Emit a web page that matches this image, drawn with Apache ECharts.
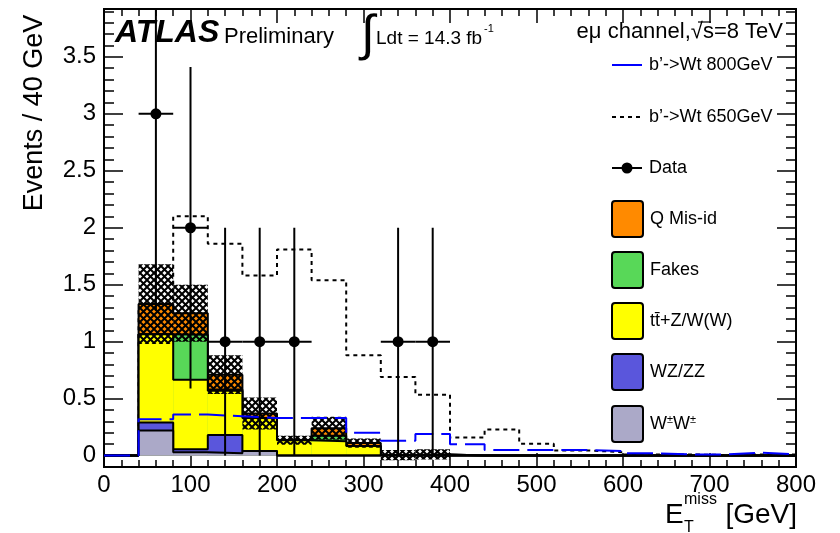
<!DOCTYPE html>
<html>
<head>
<meta charset="utf-8">
<script src="https://cdn.jsdelivr.net/npm/echarts@6.0.0/dist/echarts.min.js"></script>
<style>
  html, body { margin: 0; padding: 0; background: #fff; }
  #chart { width: 840px; height: 533px; }
</style>
</head>
<body>
<div id="chart"></div>
<script>
// Missing transverse energy, e-mu same-sign channel, 40 GeV bins
const binEdges = [0, 40, 80, 120, 160, 200, 240, 280, 320, 360, 400, 440, 480, 520, 560, 600, 640, 680, 720, 760, 800];

// Background contributions per bin (stacked bottom to top)
const wpmwpm   = [0, 0.22, 0.03, 0.02, 0.04, 0, 0, 0, 0, 0, 0, 0, 0, 0, 0, 0, 0, 0, 0, 0];
const wzzz     = [0, 0.07, 0.025, 0.16, 0, 0, 0, 0, 0, 0, 0, 0, 0, 0, 0, 0, 0, 0, 0, 0];
const ttbarV   = [0, 0.775, 0.61, 0.39, 0.29, 0.135, 0.125, 0.085, 0.005, 0, 0, 0, 0, 0, 0, 0, 0, 0, 0, 0];
const fakes    = [0, 0, 0.395, 0.01, 0, 0, 0.05, 0, 0, 0.01, 0, 0, 0, 0, 0, 0, 0, 0, 0, 0];
const qMisId   = [0, 0.265, 0.19, 0.13, 0.04, 0, 0.065, 0.025, 0, 0, 0, 0, 0, 0, 0, 0, 0, 0, 0, 0];
// Total background uncertainty per bin
const bkgUncertainty = [0, 0.35, 0.25, 0.17, 0.14, 0.04, 0.10, 0.04, 0.045, 0.045, 0, 0, 0, 0, 0, 0, 0, 0, 0, 0];

// Signal hypotheses
const signal800 = [0, 0.32, 0.36, 0.345, 0.33, 0.33, 0.33, 0.2, 0.13, 0.19, 0.1, 0.05, 0.05, 0.05, 0.04, 0.02, 0.01, 0.01, 0.025, 0.01];
const signal650 = [0, 1.3, 2.1, 1.86, 1.58, 1.81, 1.54, 0.88, 0.69, 0.535, 0.16, 0.23, 0.105, 0.045, 0.03, 0.01, 0.01, 0.005, 0.01, 0.01];

// Observed events
const dataX       = [60, 100, 140, 180, 220, 340, 380];
const dataY       = [3, 2, 1, 1, 1, 1, 1];
const dataErrLow  = [1.73, 1.41, 1, 1, 1, 1, 1];
const dataErrHigh = [1.73, 1.41, 1, 1, 1, 1, 1];
const dataXErr    = [20, 20, 20, 20, 20, 20, 20];

// Axis ticks
const xTickValues = [0, 100, 200, 300, 400, 500, 600, 700, 800];
const yTickValues = [0, 0.5, 1, 1.5, 2, 2.5, 3, 3.5];
const yMinorTickValues = [-0.1, 0.1, 0.2, 0.3, 0.4, 0.6, 0.7, 0.8, 0.9, 1.1, 1.2, 1.3, 1.4, 1.6, 1.7, 1.8, 1.9,
  2.1, 2.2, 2.3, 2.4, 2.6, 2.7, 2.8, 2.9, 3.1, 3.2, 3.3, 3.4, 3.6, 3.7, 3.8, 3.9];

const Y_MIN = -0.1, Y_MAX = 3.92;
const FONT = '"Liberation Sans", Arial, Helvetica, sans-serif';

const components = [
  { name: 'W±W±',        values: wpmwpm, color: '#aba9c8' },
  { name: 'WZ/ZZ',       values: wzzz,   color: '#5a56dc' },
  { name: 'tt̄+Z/W(W)',   values: ttbarV, color: '#ffff00' },
  { name: 'Fakes',       values: fakes,  color: '#58d858' },
  { name: 'Q Mis-id',    values: qMisId, color: '#ff8a00' }
];

// cumulative sums for the stack
const cumulative = [];
components.forEach((c, k) => {
  cumulative.push(c.values.map((v, i) => v + (k > 0 ? cumulative[k - 1][i] : 0)));
});
const totalBkg = cumulative[cumulative.length - 1];

// hatch tile for the uncertainty band
function makeHatch() {
  const s = 7;
  const cv = document.createElement('canvas');
  cv.width = s; cv.height = s;
  const g = cv.getContext('2d');
  g.strokeStyle = '#000';
  g.lineWidth = 2;
  g.beginPath();
  g.moveTo(0, 0); g.lineTo(s, s);
  g.moveTo(0, s); g.lineTo(s, 0);
  g.stroke();
  return cv;
}
const hatchPattern = { type: 'pattern', image: makeHatch(), repeat: 'repeat' };

function stepData(values) {
  return binEdges.map((e, i) => [e, values[Math.min(i, values.length - 1)]]);
}

function fillRenderer(color) {
  return function (params, api) {
    const lo = api.value(0), hi = api.value(1), top = api.value(2);
    const p0 = api.coord([lo, 0]);
    const p1 = api.coord([hi, top]);
    return {
      type: 'rect',
      shape: { x: p0[0], y: Math.min(p0[1], p1[1]), width: p1[0] - p0[0], height: Math.abs(p1[1] - p0[1]) },
      style: { fill: color }
    };
  };
}

const series = [];

// 650 GeV signal sits beneath the stack
series.push({
  name: 'b’->Wt 650GeV', type: 'line', step: 'end', symbol: 'none', z: 5,
  data: stepData(signal650),
  lineStyle: { color: '#000', width: 2, type: [4, 4] },
  silent: true, animation: false
});

// stack, painted from the top contribution downwards
for (let k = components.length - 1; k >= 0; k--) {
  const c = components[k];
  const z = 10 + (components.length - 1 - k) * 2;
  series.push({
    name: c.name, type: 'custom', z: z, clip: true, animation: false, silent: true,
    renderItem: fillRenderer(c.color),
    data: cumulative[k].map((v, i) => [binEdges[i], binEdges[i + 1], v])
  });
  series.push({
    name: c.name + ' outline', type: 'line', step: 'end', symbol: 'none', z: z + 1,
    data: stepData(cumulative[k]),
    lineStyle: { color: '#000', width: 2 },
    silent: true, animation: false
  });
}

// uncertainty band
series.push({
  name: 'uncertainty', type: 'custom', z: 25, clip: true, animation: false, silent: true,
  renderItem: function (params, api) {
    const lo = api.value(0), hi = api.value(1), c = api.value(2), u = api.value(3);
    if (u <= 0) return null;
    const p0 = api.coord([lo, c - u]);
    const p1 = api.coord([hi, c + u]);
    return {
      type: 'rect',
      shape: { x: p0[0], y: p1[1], width: p1[0] - p0[0], height: p0[1] - p1[1] },
      style: { fill: hatchPattern }
    };
  },
  data: totalBkg.map((v, i) => [binEdges[i], binEdges[i + 1], v, bkgUncertainty[i]])
});

// 800 GeV signal drawn over the stack
series.push({
  name: 'b’->Wt 800GeV', type: 'line', step: 'end', symbol: 'none', z: 27,
  data: stepData(signal800),
  lineStyle: { color: '#0000ff', width: 2, type: [26, 8] },
  silent: true, animation: false
});

// data points with error bars
series.push({
  name: 'Data', type: 'custom', z: 30, clip: true, animation: false, silent: true,
  renderItem: function (params, api) {
    const x = api.value(0), y = api.value(1);
    const lo = api.value(2), hi = api.value(3), xe = api.value(4);
    const c = api.coord([x, y]);
    const t = api.coord([x, y + hi]);
    const b = api.coord([x, y - lo]);
    const l = api.coord([x - xe, y]);
    const r = api.coord([x + xe, y]);
    return {
      type: 'group',
      children: [
        { type: 'line', shape: { x1: c[0], y1: t[1], x2: c[0], y2: b[1] }, style: { stroke: '#000', lineWidth: 2 } },
        { type: 'line', shape: { x1: l[0], y1: c[1], x2: r[0], y2: c[1] }, style: { stroke: '#000', lineWidth: 2 } },
        { type: 'circle', shape: { cx: c[0], cy: c[1], r: 5.5 }, style: { fill: '#000' } }
      ]
    };
  },
  data: dataX.map((x, i) => [x, dataY[i], dataErrLow[i], dataErrHigh[i], dataXErr[i]])
});

const axisLine = { show: true, onZero: false, lineStyle: { color: '#000', width: 2 } };

function xAxisDef(position, showLabel) {
  return {
    type: 'value', position: position, min: 0, max: 800, interval: 100,
    axisLine: axisLine,
    axisTick: { show: true, inside: true, length: 14, lineStyle: { color: '#000', width: 1.5 } },
    minorTick: { show: true, splitNumber: 5, length: 7, lineStyle: { color: '#000', width: 1.5 } },
    axisLabel: { show: showLabel, color: '#000', fontSize: 24, fontFamily: FONT, margin: 6 },
    splitLine: { show: false }, minorSplitLine: { show: false }
  };
}

function yAxisDef(position, ticks, len, showLabel) {
  return {
    type: 'value', position: position, min: Y_MIN, max: Y_MAX,
    axisLine: axisLine,
    axisTick: { show: true, inside: true, length: len, customValues: ticks, lineStyle: { color: '#000', width: 1.5 } },
    axisLabel: { show: showLabel, customValues: yTickValues, color: '#000', fontSize: 24, fontFamily: FONT, margin: 8 },
    splitLine: { show: false }
  };
}

const legendLines = [
  { label: 'b’->Wt 800GeV', y: 65, kind: 'line', color: '#0000ff', dash: null },
  { label: 'b’->Wt 650GeV', y: 117, kind: 'line', color: '#000', dash: [4, 4] },
  { label: 'Data', y: 168, kind: 'data', color: '#000', dash: null }
];
const legendBoxes = [
  { label: 'Q Mis-id', y: 219, color: components[4].color },
  { label: 'Fakes', y: 270, color: components[3].color },
  { label: 'tt̄+Z/W(W)', y: 321, color: components[2].color },
  { label: 'WZ/ZZ', y: 372, color: components[1].color },
  { label: 'W{s|±}W{s|±}', y: 424, color: components[0].color }
];

const graphics = [];
legendLines.forEach(e => {
  graphics.push({ type: 'line', shape: { x1: 612, y1: e.y, x2: 642, y2: e.y },
    style: { stroke: e.color, lineWidth: 2, lineDash: e.dash } });
  if (e.kind === 'data') {
    graphics.push({ type: 'circle', shape: { cx: 627, cy: e.y, r: 5.5 }, style: { fill: '#000' } });
  }
  graphics.push({ type: 'text', x: 649, y: e.y,
    style: { text: e.label, font: '18px ' + FONT, fill: '#000', textVerticalAlign: 'middle' } });
});
legendBoxes.forEach(e => {
  graphics.push({ type: 'rect', shape: { x: 612, y: e.y - 18, width: 31, height: 36, r: 3 },
    style: { fill: e.color, stroke: '#000', lineWidth: 2 } });
  graphics.push({ type: 'text', x: 650, y: e.y,
    style: { text: e.label, font: '18px ' + FONT, fill: '#000', textVerticalAlign: 'middle',
      rich: { s: { fontSize: 11, fontFamily: FONT, verticalAlign: 'top', padding: [0, 0, 8, 0] } } } });
});

// header labels
graphics.push(
  { type: 'text', x: 115, y: 33, style: { text: 'ATLAS', font: 'italic bold 32px ' + FONT, fill: '#000', textVerticalAlign: 'middle' } },
  { type: 'text', x: 224, y: 37, style: { text: 'Preliminary', font: '22px ' + FONT, fill: '#000', textVerticalAlign: 'middle' } },
  { type: 'text', x: 361, y: 36, style: { text: '∫', font: '50px ' + FONT, fill: '#000', textVerticalAlign: 'middle' } },
  { type: 'text', x: 376, y: 39, style: { text: 'Ldt = 14.3 fb', font: '19px ' + FONT, fill: '#000', textVerticalAlign: 'middle' } },
  { type: 'text', x: 484, y: 29, style: { text: '-1', font: '11px ' + FONT, fill: '#000', textVerticalAlign: 'middle' } },
  { type: 'text', x: 783, y: 32, style: { text: 'eμ channel,√s=8 TeV', font: '22px ' + FONT, fill: '#000', textAlign: 'right', textVerticalAlign: 'middle' } },
  { type: 'line', shape: { x1: 698, y1: 22, x2: 711, y2: 22 }, style: { stroke: '#000', lineWidth: 1.2 } },
  // axis titles
  { type: 'text', x: 35, y: 113, rotation: Math.PI / 2,
    style: { text: 'Events / 40 GeV', font: '27px ' + FONT, fill: '#000', textAlign: 'center', textVerticalAlign: 'middle' } },
  { type: 'text', x: 665, y: 515, style: { text: 'E', font: '28px ' + FONT, fill: '#000', textVerticalAlign: 'middle' } },
  { type: 'text', x: 684, y: 500, style: { text: 'miss', font: '16px ' + FONT, fill: '#000', textVerticalAlign: 'middle' } },
  { type: 'text', x: 684, y: 528, style: { text: 'T', font: '16px ' + FONT, fill: '#000', textVerticalAlign: 'middle' } },
  { type: 'text', x: 797, y: 515, style: { text: '[GeV]', font: '28px ' + FONT, fill: '#000', textAlign: 'right', textVerticalAlign: 'middle' } }
);

const chart = echarts.init(document.getElementById('chart'), null, { renderer: 'canvas' });
chart.setOption({
  animation: false,
  backgroundColor: '#fff',
  grid: { left: 104, right: 44, top: 9, bottom: 66, containLabel: false },
  xAxis: [xAxisDef('bottom', true), xAxisDef('top', false)],
  yAxis: [
    yAxisDef('left', yTickValues, 19, true),
    yAxisDef('left', yMinorTickValues, 10, false),
    yAxisDef('right', yTickValues, 19, false),
    yAxisDef('right', yMinorTickValues, 10, false)
  ],
  series: series,
  graphic: graphics
});
</script>
</body>
</html>
